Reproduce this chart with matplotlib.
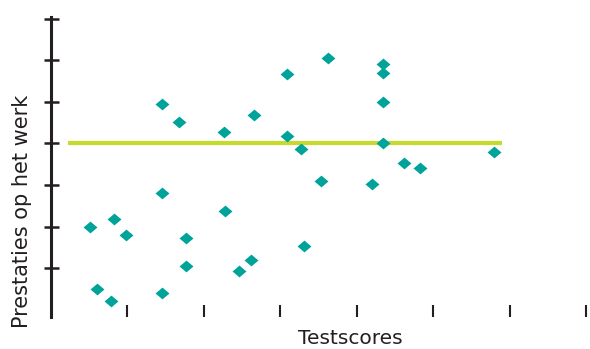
import matplotlib

matplotlib.use("Agg")
import matplotlib.pyplot as plt

# scores (x) and job performance (y)
test_scores = [0.51, 0.61, 0.79, 0.83, 0.99, 1.45, 1.45, 1.45, 1.68, 1.77,
               1.77, 2.27, 2.28, 2.46, 2.62, 2.66, 3.09, 3.09, 3.27, 3.31,
               3.53, 3.63, 4.20, 4.35, 4.35, 4.35, 4.35, 4.62, 4.83, 5.79]
performance = [1.99, 0.50, 0.22, 2.19, 1.81, 4.94, 2.81, 0.40, 4.51, 1.74,
               1.06, 4.27, 2.38, 0.94, 1.19, 4.68, 5.66, 4.18, 3.86, 1.54,
               3.11, 6.05, 3.02, 5.90, 5.70, 5.00, 4.01, 3.53, 3.41, 3.80]

mean_x = [0.23, 5.90]
mean_y = [4.0, 4.0]

x_ticks = [1, 2, 3, 4, 5, 6, 7]
y_ticks = [1, 2, 3, 4, 5, 6, 7]

TEAL = "#00A39A"
LIME = "#C6D92E"
DARK = "#231F20"
FONT = "DejaVu Sans"

diamond = [(-1, 0), (0, 0.85), (1, 0), (0, -0.85), (-1, 0)]

fig = plt.figure(figsize=(5.9, 3.49), dpi=100, facecolor="white")
ax = fig.add_axes([50.7 / 590, 1 - 317 / 349, 1 - 50.7 / 590, 300 / 349])

ax.plot(mean_x, mean_y, color=LIME, linewidth=3, solid_capstyle="butt", zorder=2)
ax.plot(test_scores, performance, linestyle="none", marker=diamond,
        markersize=10, color=TEAL, markeredgewidth=0, zorder=3)

ax.set_xlim(0, 7.05)
ax.set_ylim(-0.17, 7.04)

for side in ("top", "right", "bottom"):
    ax.spines[side].set_visible(False)
ax.spines["left"].set_linewidth(2.2)
ax.spines["left"].set_color(DARK)

ax.set_xticks(x_ticks)
ax.set_yticks(y_ticks)
ax.set_xticklabels([])
ax.set_yticklabels([])
ax.tick_params(axis="y", direction="inout", length=10.8, width=1.8, color=DARK)
ax.tick_params(axis="x", direction="in", length=9, width=1.5, color=DARK)

fig.text(22 / 590, 1 - 211 / 349, "Prestaties op het werk", rotation=90,
         ha="center", va="center", fontsize=15, family=FONT, color=DARK)
fig.text(350 / 590, 1 - 344 / 349, "Testscores", ha="center", va="baseline",
         fontsize=14.5, family=FONT, color=DARK)

fig.savefig("out.png", dpi=100, facecolor=fig.get_facecolor())
plt.close(fig)
